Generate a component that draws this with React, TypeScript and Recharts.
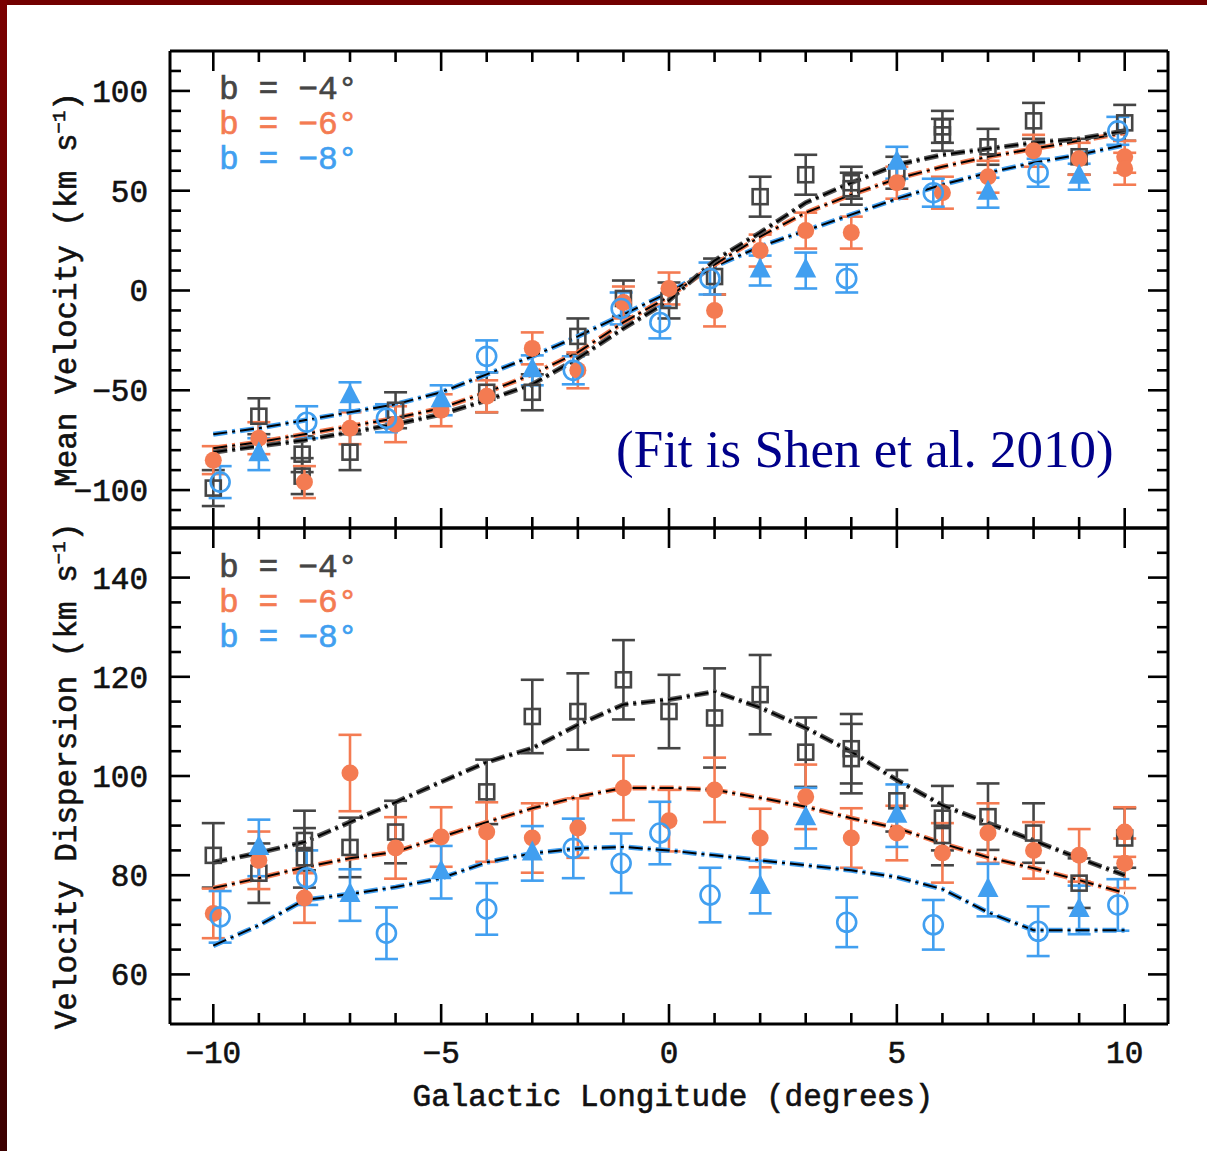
import React from 'react';
import { ComposedChart, Scatter, Line, XAxis, YAxis, ErrorBar, Legend } from 'recharts';

const GRAY = '#454545';
const ORANGE = '#f47b52';
const BLUE = '#419ff0';
const MONO = '"Liberation Mono", "DejaVu Sans Mono", monospace';
const TXT = '#111';

// ---------- ticks ----------
const X_TICKS = [-10, -9, -8, -7, -6, -5, -4, -3, -2, -1, 0, 1, 2, 3, 4, 5, 6, 7, 8, 9, 10];
const X_MAJOR = [-10, -5, 0, 5, 10];
const MV_TICKS = [-110, -100, -90, -80, -70, -60, -50, -40, -30, -20, -10, 0, 10, 20, 30, 40, 50, 60, 70, 80, 90, 100, 110];
const MV_MAJOR = [-100, -50, 0, 50, 100];
const VD_TICKS = [55, 60, 65, 70, 75, 80, 85, 90, 95, 100, 105, 110, 115, 120, 125, 130, 135, 140, 145];
const VD_MAJOR = [60, 80, 100, 120, 140];

const LEGEND_LABELS = ['b = −4°', 'b = −6°', 'b = −8°'];
const LEGEND_COLORS = [GRAY, ORANGE, BLUE];

// ---------- mean velocity: [l, v, err] ----------
const mvB4: number[][] = [
  [-10, -99, 9], [-9, -63, 9], [-8.05, -82, 9], [-8.05, -93, 9], [-7, -81, 9], [-6, -60, 9],
  [-4, -51, 10], [-3, -51, 9], [-2, -23, 9], [-1, -4, 9], [0, -5, 9], [1, 7, 9], [2, 47, 10],
  [3, 58, 10], [4, 54, 8], [4, 51, 8], [5, 59, 8], [6, 82, 8], [6, 78, 8], [7, 72, 9],
  [8, 85, 9], [9, 67, 9], [10, 84, 9],
];
const mvB6: number[][] = [
  [-10, -85, 7], [-9, -74, 8], [-8, -96, 8], [-7, -69, 8], [-6, -67, 9], [-5, -60, 8],
  [-4, -53, 8], [-3, -29, 8], [-2, -40, 9], [-1, -6, 8], [0, 1, 8], [1, -10, 8], [2, 20, 8],
  [3, 30, 9], [4, 29, 8], [5, 54, 8], [6, 49, 8], [7, 57, 8], [8, 70, 8], [9, 66, 8],
  [10, 67, 8], [10, 61, 8],
];
const mvB8c: number[][] = [
  [-9.85, -96, 8], [-7.95, -66, 8], [-6.2, -64, 7], [-4, -33, 8], [-2.1, -40, 7], [-1.05, -9, 8],
  [-0.2, -16, 8], [0.9, 6, 8], [3.9, 6, 7], [5.8, 49, 7], [8.1, 59, 7], [9.85, 80, 7],
];
const mvB8t: number[][] = [
  [-9, -82, 8], [-7, -53, 7], [-5, -55, 7.5], [-3, -40, 7.5], [2, 10, 7.5], [3, 10, 9],
  [5, 64, 8], [7, 49, 7.5], [9, 57, 6.5],
];
const FIT_L = [-10, -9, -8, -7, -6, -5, -4, -3, -2, -1, 0, 1, 2, 3, 4, 5, 6, 7, 8, 9, 10];
const mvFitB4 = [-81, -78, -75, -71, -67, -62, -55, -47, -34, -19, -5, 15, 29, 44, 54, 63, 68, 71, 74, 76, 80];
const mvFitB6 = [-79, -76, -72, -68, -64, -59, -51, -42, -31, -16, -3, 13, 27, 39, 48, 56, 62, 67, 71, 75, 79];
const mvFitB8 = [-72, -69, -65, -61, -57, -51, -42, -33, -23, -12, -1, 12, 22, 30, 38, 46, 53, 59, 64, 68, 73];

// ---------- velocity dispersion: [l, sigma, err] ----------
const vdB4: number[][] = [
  [-10, 84, 6.5], [-9, 80.4, 6], [-8, 87, 6], [-8, 83.5, 6], [-7, 85.6, 6], [-6, 88.7, 6.3],
  [-4, 96.8, 6.5], [-3, 112, 7.4], [-2, 113, 7.7], [-1, 119.4, 8], [0, 113, 7.4], [1, 111.7, 10],
  [2, 116.4, 8], [3, 104.8, 7], [4, 105.5, 7], [4, 103.5, 7], [5, 95, 6.2], [6, 91.5, 6.5],
  [6, 88, 6], [7, 91.8, 6.7], [8, 88.5, 6], [9, 78.4, 5], [10, 87.5, 6],
];
const vdB6: number[][] = [
  [-10, 72.3, 5], [-9, 83, 5.8], [-8, 75.4, 5], [-7, 100.6, 7.7], [-6, 85.5, 6.2], [-5, 87.7, 6],
  [-4, 88.7, 6], [-3, 87.5, 7], [-2, 89.5, 6], [-1, 97.6, 6.5], [0, 91, 6.2], [1, 97.2, 6.5],
  [2, 87.5, 5.9], [3, 95.8, 6.5], [4, 87.5, 6], [5, 88.5, 5.5], [6, 84.5, 6], [7, 88.5, 6],
  [8, 85, 5.7], [9, 84, 5.3], [10, 88.7, 5], [10, 82.4, 5],
];
const vdB8c: number[][] = [
  [-9.85, 71.6, 5.2], [-7.95, 79.5, 5.5], [-6.2, 68.3, 5.2], [-4, 73.2, 5.2], [-2.1, 85.4, 6],
  [-1.05, 82.4, 6], [-0.2, 88.5, 6.3], [0.9, 76, 5.5], [3.9, 70.5, 5], [5.8, 70, 5],
  [8.1, 68.7, 5], [9.85, 74, 5.2],
];
const vdB8t: number[][] = [
  [-9, 85.5, 5.7], [-7, 76, 5.2], [-5, 80.6, 5.3], [-3, 84.4, 5.5], [2, 77.6, 5.3], [3, 91.5, 6.1],
  [5, 92, 6.3], [7, 77, 5.3], [9, 73, 4.9],
];
const vdFitB4 = [82.6, 84.5, 86.7, 90.7, 94.7, 98.8, 102.8, 105.6, 110.3, 114.4, 115.4, 117, 113.8, 109.7, 104.9, 99.2, 94.1, 90.5, 87, 83.4, 80];
const vdFitB6 = [77.4, 79.4, 81.6, 83.4, 84.7, 87.7, 90.7, 93.5, 95.8, 97.6, 97.6, 97.2, 95.6, 93.8, 91.5, 89.5, 86.4, 83.6, 81.4, 79, 76.4];
const vdFitB8 = [65.8, 69.9, 75, 76.2, 77.6, 79.4, 82.6, 84.4, 85.4, 85.7, 85, 84, 83, 82, 81, 79.6, 77.2, 72.5, 68.9, 68.9, 68.9];

// ---------- helpers ----------
const pts = (rows: number[][]) => rows.map((r) => ({ x: r[0], y: r[1], e: r[2] }));
const fit = (ys: number[]) => FIT_L.map((x, i) => ({ x, y: ys[i] }));
const fmt = (n: number) => (n < 0 ? `−${-n}` : `${n}`);

const OpenSquare = (p: any) => (
  <rect x={p.cx - 7.5} y={p.cy - 7.5} width={15} height={15} fill="none" stroke={GRAY} strokeWidth={2.6} />
);
const FilledCircle = (p: any) => <circle cx={p.cx} cy={p.cy} r={8.5} fill={ORANGE} />;
const OpenCircle = (p: any) => (
  <circle cx={p.cx} cy={p.cy} r={9.5} fill="none" stroke={BLUE} strokeWidth={2.6} />
);
const Triangle = (p: any) => (
  <polygon points={`${p.cx},${p.cy - 13} ${p.cx - 10.5},${p.cy + 7} ${p.cx + 10.5},${p.cy + 7}`} fill={BLUE} />
);

const AX = 30; // axis band size

const textStyle = { fontFamily: MONO, fill: TXT, stroke: TXT, strokeWidth: 0.6 };

const makeTick = (side: string, majors: number[], labels: boolean) => (props: any) => {
  const { x, y, payload } = props;
  const v = payload.value;
  const major = majors.includes(v);
  const len = major ? 20 : 11;
  let x2 = x;
  let y2 = y;
  if (side === 'bottom') y2 = y - len;
  if (side === 'top') y2 = y + len;
  if (side === 'left') x2 = x + len;
  if (side === 'right') x2 = x - len;
  return (
    <g>
      <line x1={x} y1={y} x2={x2} y2={y2} stroke="#000" strokeWidth={2.6} />
      {labels && major && side === 'bottom' && (
        <text x={x} y={y + 39} textAnchor="middle" fontSize={31} {...textStyle}>
          {fmt(v)}
        </text>
      )}
      {labels && major && side === 'left' && (
        <text x={x - 22} y={y + 11} textAnchor="end" fontSize={31} {...textStyle}>
          {fmt(v)}
        </text>
      )}
    </g>
  );
};

const yTitle = (title: string) => (props: any) => {
  const vb = props.viewBox || {};
  const cx = (vb.x ?? 140) + (vb.width ?? AX) - 94;
  const cy = (vb.y ?? 0) + (vb.height ?? 0) / 2;
  return (
    <text x={cx} y={cy} textAnchor="middle" fontSize={31} transform={`rotate(-90, ${cx}, ${cy})`} {...textStyle}>
      {title} (km s<tspan dy={-11} fontSize={19}>−1</tspan>
      <tspan dy={11}>)</tspan>
    </text>
  );
};

const xTitle = (props: any) => {
  const vb = props.viewBox || {};
  return (
    <text x={(vb.x ?? 170) + (vb.width ?? 998) / 2 + 4} y={(vb.y ?? 0) + 82} textAnchor="middle" fontSize={31} {...textStyle}>
      Galactic Longitude (degrees)
    </text>
  );
};

const LegendBox = () => (
  <div style={{ fontFamily: MONO, fontSize: 33, lineHeight: '35px', WebkitTextStroke: '0.6px' } as any}>
    {LEGEND_LABELS.map((t, i) => (
      <div key={i} style={{ color: LEGEND_COLORS[i], whiteSpace: 'pre' }}>
        {t}
      </div>
    ))}
  </div>
);

type PanelProps = {
  height: number;
  margin: { top: number; right: number; bottom: number; left: number };
  yDomain: [number, number];
  yTicks: number[];
  yMajor: number[];
  xLabels: boolean;
  title: string;
  legendTop: number;
  sq: number[][];
  oc: number[][];
  bc: number[][];
  bt: number[][];
  f4: number[];
  f6: number[];
  f8: number[];
};

const DASH = '14 5 3 5';

function Panel(p: PanelProps) {
  const axisLine = { stroke: '#000', strokeWidth: 3 };
  const fitLine = (key: string, ys: number[], color: string) => [
    <Line
      key={key + 'u'}
      xAxisId="b"
      yAxisId="l"
      data={fit(ys)}
      dataKey="y"
      type="linear"
      stroke={color}
      strokeWidth={5}
      strokeDasharray={DASH}
      dot={false}
      activeDot={false}
      isAnimationActive={false}
    />,
    <Line
      key={key + 'o'}
      xAxisId="b"
      yAxisId="l"
      data={fit(ys)}
      dataKey="y"
      type="linear"
      stroke="#000"
      strokeWidth={2}
      strokeDasharray={DASH}
      dot={false}
      activeDot={false}
      isAnimationActive={false}
    />,
  ];
  const errBar = (color: string) => (
    <ErrorBar dataKey="e" direction="y" width={11.5} stroke={color} strokeWidth={2.6} isAnimationActive={false} />
  );
  return (
    <ComposedChart width={1207} height={p.height} margin={p.margin}>
      <XAxis
        xAxisId="b"
        type="number"
        dataKey="x"
        orientation="bottom"
        domain={[-10.95, 10.95]}
        allowDataOverflow
        ticks={X_TICKS}
        interval={0}
        height={AX}
        tickSize={0}
        tickMargin={0}
        tickLine={false}
        axisLine={axisLine}
        tick={makeTick('bottom', X_MAJOR, p.xLabels)}
        label={p.xLabels ? xTitle : undefined}
      />
      <XAxis
        xAxisId="t"
        type="number"
        dataKey="x"
        orientation="top"
        domain={[-10.95, 10.95]}
        allowDataOverflow
        ticks={X_TICKS}
        interval={0}
        height={AX}
        tickSize={0}
        tickMargin={0}
        tickLine={false}
        axisLine={axisLine}
        tick={makeTick('top', X_MAJOR, false)}
      />
      <YAxis
        yAxisId="l"
        type="number"
        orientation="left"
        domain={p.yDomain}
        allowDataOverflow
        ticks={p.yTicks}
        interval={0}
        width={AX}
        tickSize={0}
        tickMargin={0}
        tickLine={false}
        axisLine={axisLine}
        tick={makeTick('left', p.yMajor, true)}
        label={yTitle(p.title)}
      />
      <YAxis
        yAxisId="r"
        type="number"
        orientation="right"
        domain={p.yDomain}
        allowDataOverflow
        ticks={p.yTicks}
        interval={0}
        width={AX}
        tickSize={0}
        tickMargin={0}
        tickLine={false}
        axisLine={axisLine}
        tick={makeTick('right', p.yMajor, false)}
      />
      <Scatter xAxisId="b" yAxisId="l" data={pts(p.sq)} dataKey="y" shape={OpenSquare} isAnimationActive={false}>
        {errBar(GRAY)}
      </Scatter>
      <Scatter xAxisId="b" yAxisId="l" data={pts(p.oc)} dataKey="y" shape={FilledCircle} isAnimationActive={false}>
        {errBar(ORANGE)}
      </Scatter>
      <Scatter xAxisId="b" yAxisId="l" data={pts(p.bc)} dataKey="y" shape={OpenCircle} isAnimationActive={false}>
        {errBar(BLUE)}
      </Scatter>
      <Scatter xAxisId="b" yAxisId="l" data={pts(p.bt)} dataKey="y" shape={Triangle} isAnimationActive={false}>
        {errBar(BLUE)}
      </Scatter>
      {fitLine('f8', p.f8, BLUE)}
      {fitLine('f6', p.f6, ORANGE)}
      {fitLine('f4', p.f4, '#555')}
      <Legend
        layout="vertical"
        align="center"
        verticalAlign="middle"
        wrapperStyle={{ left: 219, top: p.legendTop, width: 'auto', height: 'auto', margin: 0, padding: 0 }}
        content={LegendBox}
      />
    </ComposedChart>
  );
}

export default function App() {
  return (
    <div style={{ position: 'absolute', left: 0, top: 0, width: 1207, height: 1151, background: '#fff', overflow: 'hidden' }}>
      <div style={{ position: 'absolute', left: 0, top: 0 }}>
        <Panel
          height={570}
          margin={{ top: 21, right: 9, bottom: 12, left: 140 }}
          yDomain={[-119, 120]}
          yTicks={MV_TICKS}
          yMajor={MV_MAJOR}
          xLabels={false}
          title="Mean Velocity"
          legendTop={73}
          sq={mvB4}
          oc={mvB6}
          bc={mvB8c}
          bt={mvB8t}
          f4={mvFitB4}
          f6={mvFitB6}
          f8={mvFitB8}
        />
      </div>
      <div style={{ position: 'absolute', left: 0, top: 490 }}>
        <Panel
          height={661}
          margin={{ top: 8, right: 9, bottom: 97, left: 140 }}
          yDomain={[50, 150]}
          yTicks={VD_TICKS}
          yMajor={VD_MAJOR}
          xLabels={true}
          title="Velocity Dispersion"
          legendTop={61}
          sq={vdB4}
          oc={vdB6}
          bc={vdB8c}
          bt={vdB8t}
          f4={vdFitB4}
          f6={vdFitB6}
          f8={vdFitB8}
        />
      </div>
      <div
        style={{
          position: 'absolute',
          left: 616,
          top: 423,
          fontFamily: '"Liberation Serif", "Times New Roman", serif',
          fontSize: 53,
          lineHeight: '53px',
          color: '#00008a',
          whiteSpace: 'nowrap',
        }}
      >
        (Fit is Shen et al. 2010)
      </div>
      <div style={{ position: 'absolute', left: 0, top: 0, width: 1207, height: 5, background: '#720000' }} />
      <div
        style={{
          position: 'absolute',
          left: 0,
          top: 0,
          width: 7,
          height: 1151,
          background: 'linear-gradient(#7a0000, #3c0000)',
        }}
      />
    </div>
  );
}
